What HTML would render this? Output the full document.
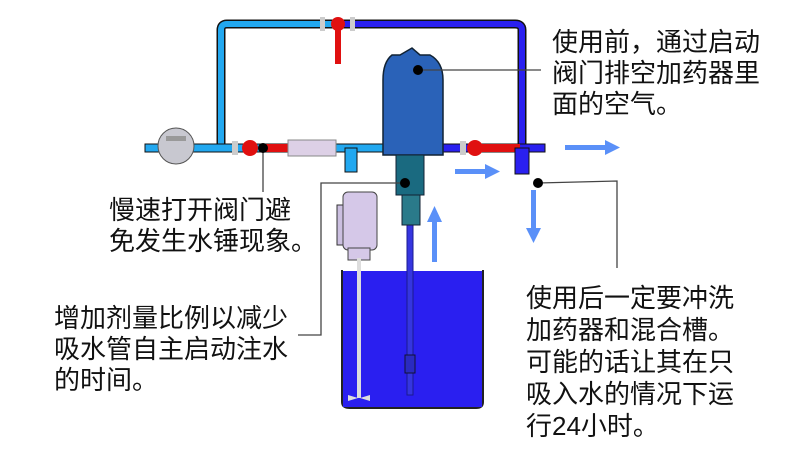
<!DOCTYPE html>
<html><head><meta charset="utf-8"><style>
body{margin:0;width:787px;height:462px;background:#fff;overflow:hidden;position:relative;font-family:"Liberation Sans","Noto Sans CJK SC",sans-serif}
.t{position:absolute;font-size:25px;line-height:31px;color:#111;white-space:nowrap}
svg{position:absolute;left:0;top:0}
</style></head><body>
<svg width="787" height="462">
<path d="M342 270 L342 402 Q342 408 350 408 L476 408 Q483 408 483 402 L483 270" fill="none" stroke="#222" stroke-width="2"/>
<rect x="343" y="271" width="139" height="136" fill="#2a1ff0"/>
<rect x="407" y="225" width="6" height="170" fill="#3535e0" stroke="#1a1a90" stroke-width="1"/>
<rect x="405" y="355" width="10" height="18" fill="#2a2ac0" stroke="#113" stroke-width="1"/>
<rect x="337" y="205" width="8" height="40" fill="#cbbfe0" stroke="#333"/>
<rect x="343" y="192" width="34" height="58" rx="5" fill="#d5c8e8" stroke="#444"/>
<rect x="348" y="248" width="22" height="12" fill="#d5c8e8" stroke="#444"/>
<rect x="357" y="258" width="4" height="140" fill="#ddd"/>
<path d="M348 395 L358 398 L348 401 Z M370 395 L360 398 L370 401 Z" fill="#ddd"/>
<g fill="none" stroke-linejoin="round">
<path d="M221 148 L221 30 Q221 24 227 24 L335 24" stroke="#111" stroke-width="9"/>
<path d="M221 148 L221 30 Q221 24 227 24 L335 24" stroke="#22a8f0" stroke-width="6"/>
<path d="M335 24 L515 24 Q522 24 522 30 L522 150" stroke="#111" stroke-width="9"/>
<path d="M335 24 L515 24 Q522 24 522 30 L522 150" stroke="#2a20f0" stroke-width="6"/>
</g>
<rect x="145" y="144" width="240" height="8" fill="#22a8f0" stroke="#111" stroke-width="1"/>
<rect x="440" y="144" width="105" height="8" fill="#2a20f0" stroke="#111" stroke-width="1"/>
<rect x="262" y="144" width="40" height="8" fill="#e01010"/>
<rect x="480" y="144" width="40" height="8" fill="#e01010"/>
<rect x="515" y="148" width="14" height="26" fill="#2a20f0" stroke="#111"/>
<rect x="345" y="148" width="12" height="24" fill="#22a8f0" stroke="#111"/>
<rect x="288" y="140" width="48" height="16" fill="#ddd0e6" stroke="#888"/>
<circle cx="250" cy="148" r="8" fill="#e01010"/><rect x="232" y="141" width="6" height="14" fill="#ccc"/>
<circle cx="475" cy="148" r="8" fill="#e01010"/><rect x="460" y="141" width="6" height="14" fill="#ccc"/>
<circle cx="338" cy="24" r="7" fill="#e01010"/><rect x="335" y="24" width="6" height="40" fill="#e01010"/>
<rect x="320" y="17" width="5" height="14" fill="#ccc"/><rect x="350" y="17" width="5" height="14" fill="#ccc"/>
<circle cx="176" cy="146" r="18" fill="#c8c8d0" stroke="#555"/>
<rect x="166" y="136" width="20" height="5" fill="#999"/>
<path d="M392 55 L400 55 L412 48 L420 55 L430 55 Q443 62 443 80 L443 155 L383 155 L383 80 Q383 62 392 55 Z" fill="#2a62b8" stroke="#123" stroke-width="1.5"/>
<rect x="396" y="155" width="28" height="40" fill="#1a6a80" stroke="#123"/>
<rect x="402" y="195" width="18" height="30" fill="#2a7a8a" stroke="#123"/>
<g fill="#5a90f8">
<rect x="565" y="145" width="42" height="5"/><path d="M605 140 L620 147.5 L605 155Z"/>
<rect x="455" y="169" width="32" height="5"/><path d="M485 164 L500 171.5 L485 179Z"/>
<rect x="531" y="190" width="5" height="40"/><path d="M526 228 L533.5 243 L541 228Z"/>
<rect x="432" y="220" width="5" height="42"/><path d="M427 222 L434.5 206 L442 222Z"/>
</g>
<g stroke="#444" stroke-width="1.3" fill="none">
<path d="M418 70 L541 70"/>
<path d="M263 148 L263 192"/>
<path d="M405 183 L321 183 L321 335 L298 335"/>
<path d="M538 183 L617 181 L617 268"/>
</g>
<g fill="#000"><circle cx="418" cy="70" r="5"/><circle cx="263" cy="148" r="5"/><circle cx="405" cy="183" r="5"/><circle cx="538" cy="183" r="5"/></g>
</svg>
<div class="t" style="left:552px;top:27px;font-size:26px">使用前，通过启动<br>阀门排空加药器里<br>面的空气。</div>
<div class="t" style="left:109px;top:195px;font-size:26px">慢速打开阀门避<br>免发生水锤现象。</div>
<div class="t" style="left:54px;top:303px;font-size:26px">增加剂量比例以减少<br>吸水管自主启动注水<br>的时间。</div>
<div class="t" style="left:526px;top:282px;font-size:26px;line-height:32px">使用后一定要冲洗<br>加药器和混合槽。<br>可能的话让其在只<br>吸入水的情况下运<br>行24小时。</div>
</body></html>
